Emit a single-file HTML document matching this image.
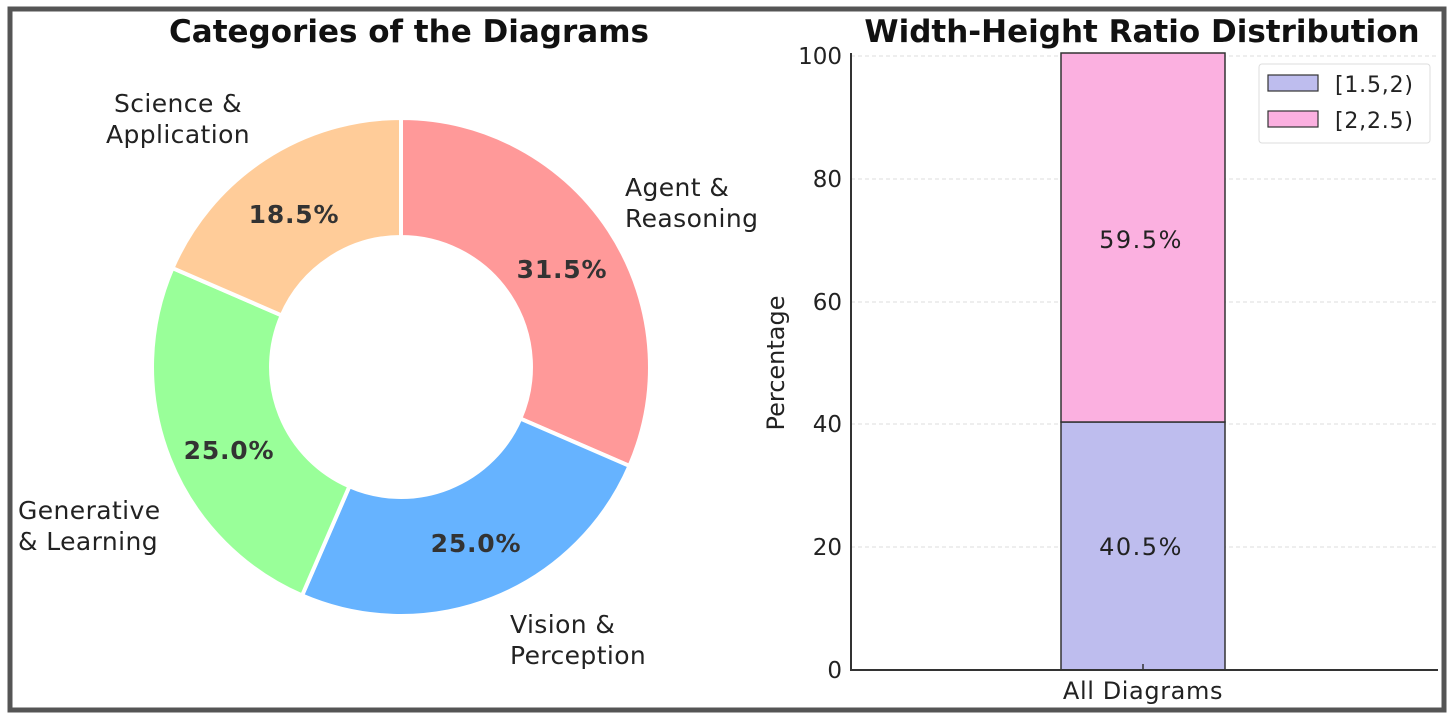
<!DOCTYPE html>
<html><head><style>
body{margin:0;background:#fff;}
svg{display:block;font-family:"DejaVu Sans","Liberation Sans",sans-serif;}
</style></head><body>
<svg width="1454" height="722" viewBox="0 0 1454 722">
<rect x="0" y="0" width="1454" height="722" fill="#fff"/>
<rect x="10" y="9" width="1434" height="701" fill="none" stroke="#555" stroke-width="5"/>
<text x="409" y="42" font-size="31" font-weight="bold" text-anchor="middle" fill="#111">Categories of the Diagrams</text>
<g stroke="#fff" stroke-width="4" stroke-linejoin="round">
<path d="M401,118 A249,249 0 0 1 629.5,465.9 L520.3,418.6 A130,130 0 0 0 401,237 Z" fill="#ff9999"/>
<path d="M629.5,465.9 A249,249 0 0 1 302.1,595.5 L349.4,486.3 A130,130 0 0 0 520.3,418.6 Z" fill="#66b3ff"/>
<path d="M302.1,595.5 A249,249 0 0 1 172.5,268.1 L281.7,315.4 A130,130 0 0 0 349.4,486.3 Z" fill="#99ff99"/>
<path d="M172.5,268.1 A249,249 0 0 1 401,118 L401,237 A130,130 0 0 0 281.7,315.4 Z" fill="#ffcc99"/>
</g>
<g font-size="25" font-weight="bold" fill="#333" text-anchor="middle" letter-spacing="0.8">
<text x="562" y="278">31.5%</text>
<text x="476" y="552">25.0%</text>
<text x="229" y="459">25.0%</text>
<text x="294" y="223">18.5%</text>
</g>
<g font-size="25" fill="#222" letter-spacing="0.4">
<text x="625" y="196">Agent &amp;</text>
<text x="625" y="227">Reasoning</text>
<text x="510" y="633">Vision &amp;</text>
<text x="510" y="664">Perception</text>
<text x="18" y="519">Generative</text>
<text x="18" y="550">&amp; Learning</text>
<text x="178" y="112" text-anchor="middle">Science &amp;</text>
<text x="178" y="143" text-anchor="middle">Application</text>
</g>
<text x="1142" y="42" font-size="31" font-weight="bold" text-anchor="middle" fill="#111">Width-Height Ratio Distribution</text>
<g stroke="#ddd" stroke-width="1" stroke-dasharray="4,3">
<line x1="851" y1="56" x2="1438" y2="56"/>
<line x1="851" y1="179" x2="1438" y2="179"/>
<line x1="851" y1="302" x2="1438" y2="302"/>
<line x1="851" y1="424" x2="1438" y2="424"/>
<line x1="851" y1="547" x2="1438" y2="547"/>
</g>
<rect x="1061" y="422" width="164" height="248" fill="#bebdee" stroke="#333" stroke-width="1.5"/>
<rect x="1061" y="53" width="164" height="369" fill="#fbb0e0" stroke="#333" stroke-width="1.5"/>
<line x1="851" y1="53" x2="851" y2="671" stroke="#333" stroke-width="2"/>
<line x1="850" y1="670" x2="1438" y2="670" stroke="#333" stroke-width="2"/>
<line x1="1143" y1="670" x2="1143" y2="664" stroke="#333" stroke-width="1.5"/>
<g font-size="23" fill="#222" text-anchor="end">
<text x="842" y="64">100</text>
<text x="842" y="187">80</text>
<text x="842" y="310">60</text>
<text x="842" y="432">40</text>
<text x="842" y="555">20</text>
<text x="842" y="678">0</text>
</g>
<text x="1143" y="699" font-size="24" fill="#222" text-anchor="middle" letter-spacing="0.6">All Diagrams</text>
<text transform="translate(784,363) rotate(-90)" font-size="24" fill="#222" text-anchor="middle">Percentage</text>
<g font-size="24" fill="#222" text-anchor="middle" letter-spacing="1.5">
<text x="1141" y="248">59.5%</text>
<text x="1141" y="555">40.5%</text>
</g>
<rect x="1259" y="64" width="171" height="79" fill="#fff" stroke="#ddd" stroke-width="1" rx="3"/>
<rect x="1268" y="75" width="50" height="16" fill="#bebdee" stroke="#333" stroke-width="1.2"/>
<rect x="1268" y="111" width="50" height="16" fill="#fbb0e0" stroke="#333" stroke-width="1.2"/>
<g font-size="22" fill="#222" letter-spacing="0.8">
<text x="1335" y="92">[1.5,2)</text>
<text x="1335" y="128">[2,2.5)</text>
</g>
</svg>
</body></html>
